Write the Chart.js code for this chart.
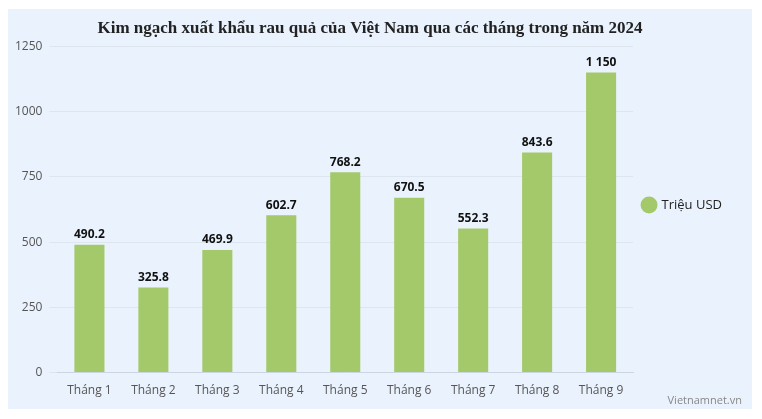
<!DOCTYPE html>
<html><head><meta charset="utf-8">
<script src="https://cdn.jsdelivr.net/npm/chart.js@4"></script>
<style>
body{margin:0;background:#fff;}
#panel{position:absolute;left:8px;top:9px;width:744px;height:400px;background:#eaf3fd;}
#credit{position:absolute;right:10px;bottom:2px;font:11px "Open Sans",sans-serif;color:#888;}
</style></head><body>
<div id="panel"><canvas id="c" width="744" height="400"></canvas><div id="credit">Vietnamnet.vn</div></div>
<script>
const months = ["Tháng 1","Tháng 2","Tháng 3","Tháng 4","Tháng 5","Tháng 6","Tháng 7","Tháng 8","Tháng 9"];
const values = [490.2, 325.8, 469.9, 602.7, 768.2, 670.5, 552.3, 843.6, 1150];
const labels = ["490.2","325.8","469.9","602.7","768.2","670.5","552.3","843.6","1 150"];

const barLabels = {
  id: "barLabels",
  afterDatasetsDraw(chart) {
    const ctx = chart.ctx;
    ctx.save();
    ctx.font = "bold 12px 'Open Sans', sans-serif";
    ctx.fillStyle = "#111";
    ctx.textAlign = "center";
    ctx.textBaseline = "bottom";
    chart.getDatasetMeta(0).data.forEach((bar, i) => {
      ctx.fillText(labels[i], bar.x, bar.y - 4);
    });
    ctx.restore();
  }
};

new Chart(document.getElementById("c"), {
  type: "bar",
  data: {
    labels: months,
    datasets: [{
      label: "Triệu USD",
      data: values,
      backgroundColor: "#a3c96a",
      barPercentage: 0.47,
      categoryPercentage: 1
    }]
  },
  options: {
    responsive: false,
    animation: false,
    layout: { padding: { left: 0, right: 20, top: 0, bottom: 8 } },
    plugins: {
      title: {
        display: true,
        text: "Kim ngạch xuất khẩu rau quả của Việt Nam qua các tháng trong năm 2024",
        font: { family: "'Liberation Serif', serif", size: 17, weight: "bold" },
        color: "#222",
        padding: { top: 9, bottom: 8 }
      },
      legend: {
        position: "right",
        labels: {
          usePointStyle: true, pointStyle: "circle", boxWidth: 12, boxHeight: 12,
          font: { family: "'Open Sans', sans-serif", size: 13 }, color: "#222", padding: 10
        }
      },
      tooltip: { enabled: false }
    },
    scales: {
      x: {
        grid: { display: false },
        border: { color: "#ccd6e0" },
        ticks: { font: { family: "'Open Sans', sans-serif", size: 12 }, color: "#555" }
      },
      y: {
        min: 0, max: 1250,
        ticks: { stepSize: 250, callback: v => String(v), font: { family: "'Open Sans', sans-serif", size: 12 }, color: "#555", padding: 7 },
        grid: { color: "#dde6ef" },
        border: { display: false }
      }
    }
  },
  plugins: [barLabels]
});
</script>
</body></html>
